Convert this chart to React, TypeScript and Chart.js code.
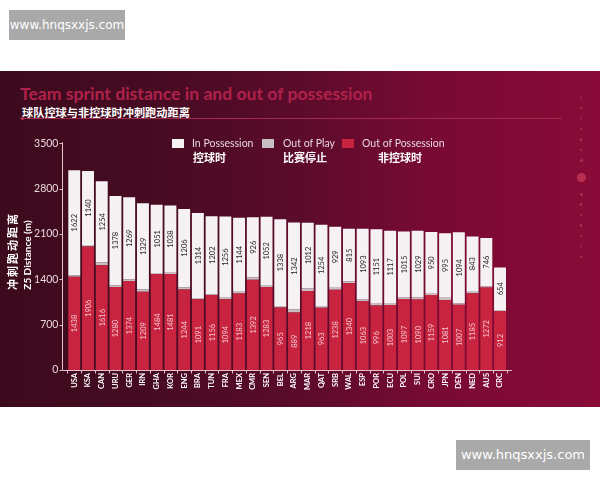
import { useEffect, useRef } from "react";
import { Chart, registerables } from "chart.js";

Chart.register(...registerables);

// Teams, ordered by total sprint distance
const teams = [
  "USA", "KSA", "CAN", "URU", "GER", "IRN", "GHA", "KOR", "ENG", "BRA", "TUN",
  "FRA", "MEX", "CMR", "SEN", "BEL", "ARG", "MAR", "QAT", "SRB", "WAL", "ESP",
  "POR", "ECU", "POL", "SUI", "CRO", "JPN", "DEN", "NED", "AUS", "CRC",
];

// Z5 distance (m) out of possession
const outOfPossession = [
  1438, 1906, 1616, 1280, 1374, 1209, 1484, 1481, 1244, 1091, 1156,
  1094, 1183, 1392, 1283, 965, 889, 1218, 963, 1238, 1340, 1063,
  996, 1003, 1097, 1090, 1159, 1081, 1007, 1185, 1272, 912,
];

// Z5 distance (m) while the ball is out of play
const outOfPlay = [
  25, 25, 45, 30, 25, 35, 15, 20, 35, 20, 15,
  20, 25, 40, 30, 25, 45, 45, 25, 45, 25, 25,
  25, 30, 25, 30, 20, 35, 25, 35, 20, 15,
];

// Z5 distance (m) in possession
const inPossession = [
  1622, 1140, 1254, 1378, 1269, 1329, 1051, 1038, 1206, 1314, 1202,
  1256, 1144, 926, 1052, 1338, 1342, 1012, 1254, 929, 815, 1093,
  1151, 1117, 1015, 1029, 950, 995, 1094, 843, 746, 654,
];

const yMax = 3500;
const yStep = 700;

const RED = "#c8243f";
const GREY = "#c7c0c3";
const WHITE = "#f6f2f3";
const AXIS = "#e4c2cd";
const FONT = "Lato, 'Open Sans', sans-serif";
const CJK = "'Noto Sans CJK SC', sans-serif";

const framePlugin = {
  id: "frame",
  afterDraw(chart: any) {
    const { ctx, chartArea, scales } = chart;
    const { left, right, top, bottom } = chartArea;
    const ax = Math.round(left - 5) + 0.5;
    const ay = Math.round(bottom) + 0.5;
    ctx.save();
    ctx.strokeStyle = AXIS;
    ctx.lineWidth = 1;
    ctx.beginPath();
    ctx.moveTo(ax, top - 1);
    ctx.lineTo(ax, ay);
    ctx.lineTo(right + 5, ay);
    scales.y.ticks.forEach((t: any) => {
      const py = Math.round(scales.y.getPixelForValue(t.value)) + 0.5;
      ctx.moveTo(ax - 3, py);
      ctx.lineTo(ax, py);
    });
    for (let i = 0; i <= teams.length; i++) {
      const px = Math.round(left + ((right - left) * i) / teams.length) + 0.5;
      ctx.moveTo(px, ay);
      ctx.lineTo(px, ay + 3);
    }
    ctx.stroke();
    ctx.restore();
  },
};

const segmentLabelPlugin = {
  id: "segmentLabels",
  afterDatasetsDraw(chart: any) {
    const { ctx } = chart;
    const specs: [number, string][] = [
      [0, "#f4c6d0"],
      [2, "#262024"],
    ];
    specs.forEach(([di, color]) => {
      const meta = chart.getDatasetMeta(di);
      const data = chart.data.datasets[di].data as number[];
      meta.data.forEach((bar: any, i: number) => {
        const { x, y, base } = bar.getProps(["x", "y", "base"], true);
        ctx.save();
        ctx.translate(x, (y + base) / 2);
        ctx.rotate(-Math.PI / 2);
        ctx.font = `7.5px ${FONT}`;
        ctx.fillStyle = color;
        ctx.textAlign = "center";
        ctx.textBaseline = "middle";
        ctx.fillText(String(data[i]), 0, 0.5);
        ctx.restore();
      });
    });
  },
};

function ChartCanvas() {
  const ref = useRef<HTMLCanvasElement>(null);
  useEffect(() => {
    if (!ref.current) return;
    const chart = new Chart(ref.current, {
      type: "bar",
      data: {
        labels: teams,
        datasets: [
          { label: "Out of Possession", data: outOfPossession, backgroundColor: RED },
          { label: "Out of Play", data: outOfPlay, backgroundColor: GREY },
          { label: "In Possession", data: inPossession, backgroundColor: WHITE },
        ],
      },
      options: {
        responsive: false,
        animation: false,
        events: [],
        layout: { padding: { top: 72.3, right: 93.1, bottom: 0, left: 0 } },
        datasets: {
          bar: { categoryPercentage: 1, barPercentage: 0.87, borderWidth: 0 },
        },
        plugins: { legend: { display: false }, tooltip: { enabled: false } },
        scales: {
          x: {
            stacked: true,
            grid: { display: false, drawTicks: false },
            border: { display: false },
            afterFit: (s: any) => {
              s.height = 37;
            },
            ticks: {
              color: "#ffffff",
              font: { family: FONT, size: 7.5, weight: "bold" },
              minRotation: 90,
              maxRotation: 90,
              autoSkip: false,
              padding: 3,
            },
          },
          y: {
            stacked: true,
            min: 0,
            max: yMax,
            grid: { display: false, drawTicks: false },
            border: { display: false },
            afterFit: (s: any) => {
              s.width = 67.4;
            },
            ticks: {
              stepSize: yStep,
              color: "#ead6dd",
              font: { family: FONT, size: 10.5 },
              padding: 9,
              callback: (v: any) => String(v),
            },
          },
        },
      },
      plugins: [framePlugin, segmentLabelPlugin],
    });
    return () => chart.destroy();
  }, []);
  return (
    <canvas
      ref={ref}
      width={600}
      height={336}
      style={{ position: "absolute", left: 0, top: 0, width: 600, height: 336 }}
    />
  );
}

const abs = (o: any) => ({ position: "absolute" as const, ...o });

const dotsAbove = [
  [97.7, 1.2], [108, 1.5], [118.5, 1.8], [129, 2.1], [139.5, 2.4], [150, 2.7], [160.5, 3],
];
const dotsBelow = [
  [194, 3], [204.5, 2.7], [215, 2.4], [225.5, 2.1], [236, 1.8], [246.5, 1.5], [257, 1.2],
];

export default function App() {
  return (
    <div
      style={{
        position: "fixed",
        left: 0,
        top: 0,
        width: 600,
        height: 480,
        background: "#ffffff",
        overflow: "hidden",
        fontFamily: FONT,
      }}
    >
      <div
        style={abs({
          left: 9,
          top: 10,
          width: 116,
          height: 30,
          background: "#a9a9a9",
          color: "#ffffff",
          fontFamily: "'DejaVu Sans', sans-serif",
          fontSize: 12,
          lineHeight: "30px",
          textAlign: "center",
        })}
      >
        www.hnqsxxjs.com
      </div>

      <div
        style={abs({
          left: 0,
          top: 71,
          width: 600,
          height: 336,
          background:
            "linear-gradient(90deg, #3c0a1d 0%, #460b22 25%, #5c0b2b 50%, #780a33 72%, #890b38 100%)",
        })}
      >
        <div
          style={abs({
            left: 20,
            top: 13.5,
            fontSize: 17.6,
            fontWeight: 700,
            lineHeight: "18px",
            color: "#b0224b",
            whiteSpace: "nowrap",
          })}
        >
          Team sprint distance in and out of possession
        </div>
        <div
          style={abs({
            left: 22,
            top: 35,
            fontSize: 11.2,
            fontWeight: 700,
            lineHeight: "12px",
            color: "#ffffff",
            fontFamily: CJK,
            whiteSpace: "nowrap",
          })}
        >
          球队控球与非控球时冲刺跑动距离
        </div>
        <div style={abs({ left: 20, top: 47, width: 542, height: 1, background: "#a22a4d" })} />
        <div
          style={abs({ left: 21, top: 46, width: 3, height: 3, borderRadius: 2, background: "#c23556" })}
        />

        {dotsAbove.concat(dotsBelow).map(([y, d], i) => (
          <div
            key={i}
            style={abs({
              left: 581 - d / 2,
              top: y - 71 - d / 2,
              width: d,
              height: d,
              borderRadius: "50%",
              background: "#b52e4e",
            })}
          />
        ))}
        <div
          style={abs({
            left: 576.5,
            top: 177 - 71 - 4.5,
            width: 9,
            height: 9,
            borderRadius: "50%",
            background: "#bb3050",
          })}
        />

        <ChartCanvas />

        {/* legend */}
        <div style={abs({ left: 172, top: 68, width: 12, height: 9, background: WHITE })} />
        <div style={abs({ left: 192, top: 66, fontSize: 10.5, lineHeight: "12px", color: "#e6d6dc", whiteSpace: "nowrap" })}>
          In Possession
        </div>
        <div style={abs({ left: 193, top: 80, fontSize: 11, fontWeight: 700, lineHeight: "12px", color: "#fff", fontFamily: CJK, whiteSpace: "nowrap" })}>
          控球时
        </div>
        <div style={abs({ left: 262, top: 68, width: 12, height: 9, background: GREY })} />
        <div style={abs({ left: 283, top: 66, fontSize: 10.5, lineHeight: "12px", color: "#e6d6dc", whiteSpace: "nowrap" })}>
          Out of Play
        </div>
        <div style={abs({ left: 283, top: 80, fontSize: 11, fontWeight: 700, lineHeight: "12px", color: "#fff", fontFamily: CJK, whiteSpace: "nowrap" })}>
          比赛停止
        </div>
        <div style={abs({ left: 342, top: 68, width: 12, height: 9, background: RED })} />
        <div style={abs({ left: 362, top: 66, fontSize: 10.5, lineHeight: "12px", color: "#e6d6dc", whiteSpace: "nowrap" })}>
          Out of Possession
        </div>
        <div style={abs({ left: 378, top: 80, fontSize: 11, fontWeight: 700, lineHeight: "12px", color: "#fff", fontFamily: CJK, whiteSpace: "nowrap" })}>
          非控球时
        </div>

        {/* y axis title */}
        <div
          style={abs({
            left: 12 - 50,
            top: 180 - 6,
            width: 100,
            height: 12,
            transform: "rotate(-90deg)",
            textAlign: "center",
            fontFamily: CJK,
            fontWeight: 700,
            fontSize: 11,
            letterSpacing: 2,
            lineHeight: "12px",
            color: "#ffffff",
            whiteSpace: "nowrap",
          })}
        >
          冲刺跑动距离
        </div>
        <div
          style={abs({
            left: 26.5 - 50,
            top: 184 - 6,
            width: 100,
            height: 12,
            transform: "rotate(-90deg)",
            textAlign: "center",
            fontWeight: 700,
            fontSize: 10,
            lineHeight: "12px",
            color: "#ffffff",
            whiteSpace: "nowrap",
          })}
        >
          Z5 Distance (m)
        </div>
      </div>

      <div
        style={abs({
          left: 456,
          top: 440,
          width: 134,
          height: 30,
          background: "#a9a9a9",
          color: "#ffffff",
          fontFamily: "'DejaVu Sans', sans-serif",
          fontSize: 13,
          lineHeight: "30px",
          textAlign: "center",
        })}
      >
        www.hnqsxxjs.com
      </div>
    </div>
  );
}
